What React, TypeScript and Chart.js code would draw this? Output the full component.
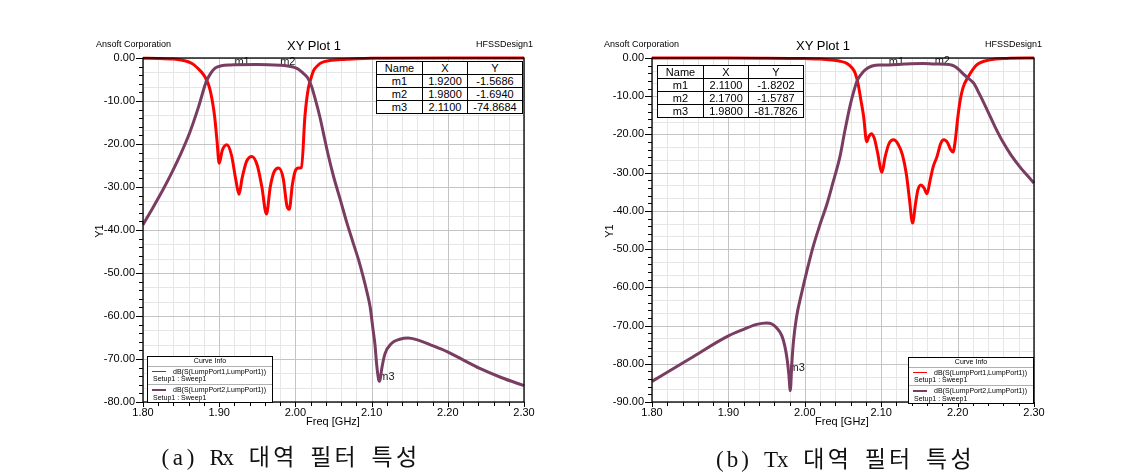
import React, { useEffect, useRef } from "react";
import { Chart, registerables } from "chart.js";

Chart.register(...registerables);

// ---------------- DATA ----------------
const xTickValues = [1.8, 1.9, 2.0, 2.1, 2.2, 2.3];

// (a) Rx band filter
const rxS11Freq = [1.80, 1.82, 1.84, 1.85, 1.856, 1.862, 1.867, 1.872, 1.877, 1.881, 1.885, 1.888, 1.891, 1.894, 1.897, 1.900, 1.904, 1.910, 1.916, 1.922, 1.926, 1.930, 1.936, 1.943, 1.950, 1.956, 1.962, 1.967, 1.972, 1.978, 1.984, 1.989, 1.992, 1.996, 2.000, 2.004, 2.008, 2.0125, 2.017, 2.020, 2.024, 2.029, 2.034, 2.045, 2.067, 2.08, 2.10, 2.20, 2.30];
const rxS11 = [-0.05, -0.1, -0.25, -0.45, -0.7, -1.1, -1.6, -2.4, -3.3, -4.3, -5.7, -7.4, -10, -13.6, -19, -24.5, -21.5, -20.2, -22.5, -28.5, -31.7, -28, -24, -22.9, -25, -30, -36.3, -30, -26.5, -25.6, -28, -34.5, -35.2, -29.5, -26.2, -25.6, -25.5, -13.6, -7, -5, -2.9, -1.8, -1.1, -0.6, -0.3, -0.15, -0.05, 0, 0];

const rxS21Freq = [1.80, 1.813, 1.826, 1.838, 1.848, 1.861, 1.873, 1.883, 1.889, 1.895, 1.903, 1.915, 1.92, 1.95, 1.98, 1.99, 1.997, 2.004, 2.010, 2.016, 2.021, 2.026, 2.032, 2.038, 2.043, 2.050, 2.059, 2.067, 2.076, 2.083, 2.089, 2.094, 2.098, 2.102, 2.1045, 2.1065, 2.109, 2.110, 2.1115, 2.113, 2.1175, 2.126, 2.137, 2.148, 2.159, 2.18, 2.199, 2.22, 2.242, 2.27, 2.30];
const rxS21 = [-38.8, -34.8, -30.7, -26.6, -22.9, -17.5, -11.3, -5.5, -3.5, -2.3, -1.8, -1.6, -1.57, -1.5, -1.69, -1.85, -2.1, -2.6, -3.5, -4.6, -6.5, -9.5, -13.6, -18.5, -22.5, -27.5, -33, -38, -43.1, -47, -50.9, -54.5, -57.8, -63.3, -66.8, -71, -74.6, -75.2, -74.5, -72.6, -68.8, -66.4, -65.4, -65.1, -65.5, -66.9, -68.3, -70.2, -72.2, -74.3, -76.2];

const rxMarkerNames = ["m1", "m2", "m3"];
const rxMarkerX = [1.92, 1.98, 2.11];
const rxMarkerY = [-1.5686, -1.694, -74.8684];

// (b) Tx band filter
const txS11Freq = [1.80, 1.90, 1.95, 1.98, 2.00, 2.02, 2.035, 2.045, 2.055, 2.061, 2.066, 2.070, 2.073, 2.077, 2.081, 2.084, 2.087, 2.091, 2.095, 2.101, 2.105, 2.110, 2.116, 2.122, 2.128, 2.133, 2.137, 2.141, 2.145, 2.148, 2.152, 2.156, 2.160, 2.164, 2.168, 2.173, 2.178, 2.182, 2.187, 2.191, 2.194, 2.197, 2.200, 2.203, 2.207, 2.214, 2.225, 2.242, 2.264, 2.30];
const txS11 = [0, 0, -0.05, -0.1, -0.15, -0.25, -0.5, -0.8, -1.4, -2.4, -4, -7, -10.5, -15.3, -21.9, -20.5, -19.8, -21, -24.5, -29.9, -26, -22.5, -21.4, -22.5, -25.5, -30.5, -37, -43.2, -38, -34.5, -33.2, -34, -35.5, -32, -28.5, -25.8, -22.3, -21.4, -22.2, -24, -24.6, -21.5, -16, -11.5, -7.8, -4.9, -1.8, -0.5, -0.1, 0];

const txS21Freq = [1.80, 1.85, 1.90, 1.92, 1.937, 1.950, 1.957, 1.963, 1.970, 1.974, 1.977, 1.979, 1.981, 1.983, 1.985, 1.989, 1.996, 2.003, 2.011, 2.020, 2.029, 2.037, 2.046, 2.052, 2.059, 2.064, 2.068, 2.074, 2.079, 2.088, 2.098, 2.11, 2.13, 2.155, 2.17, 2.185, 2.193, 2.197, 2.202, 2.207, 2.214, 2.221, 2.229, 2.238, 2.249, 2.260, 2.270, 2.282, 2.291, 2.30];
const txS21 = [-84.6, -78.6, -72.7, -71, -69.7, -69.3, -69.6, -70.6, -72.7, -75.5, -79, -82.5, -87, -80, -74.5, -68, -61.4, -55.5, -49.3, -43.5, -38.2, -32.5, -25.8, -19.5, -12.7, -8.8, -6.2, -4.2, -3.1, -2.1, -1.8, -1.82, -1.6, -1.45, -1.58, -1.65, -1.9, -2.3, -3.1, -4.1, -5.3, -6.6, -9.6, -13.3, -18.0, -22.2, -25.4, -28.6, -30.7, -32.7];

const txMarkerNames = ["m1", "m2", "m3"];
const txMarkerX = [2.11, 2.17, 1.98];
const txMarkerY = [-1.8202, -1.5787, -81.7826];

const curveLabels = ["dB(S(LumpPort1,LumpPort1))", "dB(S(LumpPort2,LumpPort1))"];
const setupLabel = "Setup1 : Sweep1";
const rxCaption = "(a) Rx 대역 필터 특성";
const txCaption = "(b) Tx 대역 필터 특성";

// ---------------- STYLE ----------------
const S11_COLOR = "#ff0000";
const S21_COLOR = "#7a3d62";
const MAJOR_GRID = "#c4c4c4";
const MINOR_GRID = "#e6e6e6";
const FONT = "'Liberation Sans', Arial, sans-serif";
const CANVAS_W = 565;
const CANVAS_H = 474;

const hfssPlugin = {
  id: "hfssFrame",
  beforeDatasetsDraw(chart: any, _args: any, opts: any) {
    const { ctx, chartArea: a, scales } = chart;
    const xs = scales.x;
    const ys = scales.y;
    const yMin = ys.min;
    ctx.save();
    ctx.fillStyle = "#fff";
    ctx.fillRect(a.left, a.top, a.right - a.left, a.bottom - a.top);
    ctx.lineWidth = 1;
    const vline = (v: number, color: string) => {
      const p = Math.round(xs.getPixelForValue(v)) + 0.5;
      ctx.strokeStyle = color;
      ctx.beginPath();
      ctx.moveTo(p, a.top);
      ctx.lineTo(p, a.bottom);
      ctx.stroke();
    };
    const hline = (v: number, color: string) => {
      const p = Math.round(ys.getPixelForValue(v)) + 0.5;
      ctx.strokeStyle = color;
      ctx.beginPath();
      ctx.moveTo(a.left, p);
      ctx.lineTo(a.right, p);
      ctx.stroke();
    };
    const nY = Math.round((-yMin / 10) * 3);
    for (let i = 0; i <= 25; i++) if (i % 5) vline(1.8 + i * 0.02, MINOR_GRID);
    for (let j = 0; j <= nY; j++) if (j % 3) hline((-j * 10) / 3, MINOR_GRID);
    for (let i = 0; i <= 25; i += 5) vline(1.8 + i * 0.02, MAJOR_GRID);
    for (let j = 0; j <= nY; j += 3) hline((-j * 10) / 3, MAJOR_GRID);

    // marker labels
    ctx.font = `11px ${FONT}`;
    ctx.fillStyle = "#1a1a1a";
    ctx.textAlign = "left";
    ctx.textBaseline = "middle";
    const names: string[] = opts.names || [];
    for (let k = 0; k < names.length; k++) {
      const px = xs.getPixelForValue(opts.mx[k]);
      const py = ys.getPixelForValue(opts.my[k]);
      ctx.fillText(names[k], px, py - 3);
    }
    ctx.restore();
  },
  afterDatasetsDraw(chart: any) {
    const { ctx, chartArea: a, scales } = chart;
    const xs = scales.x;
    const ys = scales.y;
    ctx.save();
    ctx.strokeStyle = "#000";
    ctx.lineWidth = 1.3;
    ctx.strokeRect(a.left, a.top, a.right - a.left, a.bottom - a.top);
    ctx.lineWidth = 1;
    // y ticks every 2 dB
    const n2 = Math.round(-ys.min / 2);
    for (let j = 0; j <= n2; j++) {
      const p = Math.round(ys.getPixelForValue(-j * 2)) + 0.5;
      const len = j % 5 === 0 ? 7 : 4;
      ctx.beginPath();
      ctx.moveTo(a.left - len, p);
      ctx.lineTo(a.left, p);
      ctx.stroke();
    }
    // x ticks every 0.02
    for (let i = 0; i <= 25; i++) {
      const p = Math.round(xs.getPixelForValue(1.8 + i * 0.02)) + 0.5;
      const len = i % 5 === 0 ? 5 : 4;
      ctx.beginPath();
      ctx.moveTo(p, a.bottom);
      ctx.lineTo(p, a.bottom + len);
      ctx.stroke();
    }
    ctx.restore();
  },
};

type ChartProps = {
  left: number;
  area: { l: number; r: number; t: number; b: number };
  yMin: number;
  s11x: number[];
  s11y: number[];
  s21x: number[];
  s21y: number[];
  names: string[];
  mx: number[];
  my: number[];
};

function HfssChart(p: ChartProps) {
  const ref = useRef<HTMLCanvasElement | null>(null);
  useEffect(() => {
    if (!ref.current) return;
    const toPts = (xs: number[], ys: number[]) => xs.map((x, i) => ({ x, y: ys[i] }));
    const chart = new Chart(ref.current, {
      type: "line",
      data: {
        datasets: [
          {
            label: curveLabels[0],
            data: toPts(p.s11x, p.s11y),
            borderColor: S11_COLOR,
            borderWidth: 3,
            pointRadius: 0,
            cubicInterpolationMode: "monotone",
            fill: false,
            clip: false,
            order: 1,
          },
          {
            label: curveLabels[1],
            data: toPts(p.s21x, p.s21y),
            borderColor: S21_COLOR,
            borderWidth: 3,
            pointRadius: 0,
            cubicInterpolationMode: "monotone",
            fill: false,
            clip: false,
            order: 0,
          },
        ],
      },
      options: {
        responsive: false,
        animation: false,
        devicePixelRatio: 1,
        layout: {
          padding: { left: 0, top: p.area.t, right: CANVAS_W - p.area.r, bottom: CANVAS_H - p.area.b - 30 },
        },
        plugins: {
          legend: { display: false },
          tooltip: { enabled: false },
          title: { display: false },
          hfssFrame: { names: p.names, mx: p.mx, my: p.my },
        } as any,
        scales: {
          x: {
            type: "linear",
            min: 1.8,
            max: 2.3,
            afterFit: (s: any) => {
              s.height = 30;
            },
            afterBuildTicks: (s: any) => {
              s.ticks = xTickValues.map((v) => ({ value: v }));
            },
            grid: { display: false, drawTicks: false },
            border: { display: false },
            ticks: {
              padding: 4,
              autoSkip: false,
              maxRotation: 0,
              color: "#000",
              font: { family: FONT, size: 11 },
              callback: (v: any) => Number(v).toFixed(2),
            },
          },
          y: {
            type: "linear",
            min: p.yMin,
            max: 0,
            afterFit: (s: any) => {
              s.width = p.area.l;
            },
            grid: { display: false, drawTicks: false },
            border: { display: false },
            ticks: {
              stepSize: 10,
              padding: 8,
              autoSkip: false,
              color: "#000",
              font: { family: FONT, size: 11 },
              callback: (v: any) => Number(v).toFixed(2),
            },
          },
        },
      },
      plugins: [hfssPlugin as any],
    } as any);
    return () => chart.destroy();
  }, []);
  return (
    <canvas
      ref={ref}
      width={CANVAS_W}
      height={CANVAS_H}
      style={{ position: "absolute", left: p.left, top: 0, width: CANVAS_W, height: CANVAS_H }}
    />
  );
}

function Label(props: { x: number; y: number; size: number; text: string; anchor?: "left" | "center" | "right"; rotate?: boolean; weight?: string }) {
  const anchor = props.anchor || "left";
  const tx = anchor === "left" ? "0" : anchor === "center" ? "-50%" : "-100%";
  return (
    <div
      style={{
        position: "absolute",
        left: props.x,
        top: props.y,
        transform: `translate(${tx}, -50%)${props.rotate ? " rotate(-90deg)" : ""}`,
        fontFamily: FONT,
        fontSize: props.size,
        fontWeight: props.weight || "normal",
        lineHeight: 1,
        whiteSpace: "nowrap",
        color: "#000",
      }}
    >
      {props.text}
    </div>
  );
}

function MarkerTable(props: { left: number; top: number; names: string[]; xs: number[]; ys: number[] }) {
  const cols = [46, 45, 55];
  const cell: React.CSSProperties = {
    border: "1px solid #000",
    height: 12,
    padding: 0,
    textAlign: "center",
    lineHeight: "12px",
    overflow: "hidden",
  };
  return (
    <table
      style={{
        position: "absolute",
        left: props.left,
        top: props.top,
        width: cols[0] + cols[1] + cols[2],
        borderCollapse: "collapse",
        tableLayout: "fixed",
        background: "#fff",
        fontFamily: FONT,
        fontSize: 11,
        color: "#000",
      }}
    >
      <colgroup>
        {cols.map((w, i) => (
          <col key={i} style={{ width: w }} />
        ))}
      </colgroup>
      <tbody>
        <tr>
          <td style={cell}>Name</td>
          <td style={cell}>X</td>
          <td style={cell}>Y</td>
        </tr>
        {props.names.map((n, i) => (
          <tr key={n}>
            <td style={cell}>{n}</td>
            <td style={cell}>{props.xs[i].toFixed(4)}</td>
            <td style={cell}>{props.ys[i].toFixed(4)}</td>
          </tr>
        ))}
      </tbody>
    </table>
  );
}

function CurveInfo(props: { left: number; top: number }) {
  const colors = [S11_COLOR, S21_COLOR];
  return (
    <div
      style={{
        position: "absolute",
        left: props.left,
        top: props.top,
        width: 126,
        height: 47,
        border: "1px solid #000",
        background: "#fff",
        boxSizing: "border-box",
        fontFamily: FONT,
        fontSize: 7,
        color: "#000",
      }}
    >
      <div style={{ position: "absolute", left: 0, right: 0, top: 0, height: 8, lineHeight: "8px", textAlign: "center" }}>Curve Info</div>
      <div style={{ position: "absolute", left: 0, right: 0, top: 8.5, borderTop: "1px solid #b0b0b0" }} />
      {curveLabels.map((lab, i) => {
        const base = 9 + i * 18.5;
        return (
          <React.Fragment key={lab}>
            <div style={{ position: "absolute", left: 4, width: 14, top: base + 4.8, height: 1.4, background: colors[i] }} />
            <div style={{ position: "absolute", right: 6, top: base + 1.5, lineHeight: "8px", whiteSpace: "nowrap" }}>{lab}</div>
            <div style={{ position: "absolute", left: 5, top: base + 9.3, lineHeight: "8px", whiteSpace: "nowrap" }}>{setupLabel}</div>
            {i === 0 ? (
              <div style={{ position: "absolute", left: 0, right: 0, top: base + 18, borderTop: "1px solid #b0b0b0" }} />
            ) : null}
          </React.Fragment>
        );
      })}
    </div>
  );
}

function Caption(props: { left: number; cy: number; text: string }) {
  return (
    <div
      style={{
        position: "absolute",
        left: props.left,
        top: props.cy - 15,
        height: 30,
        lineHeight: "30px",
        whiteSpace: "nowrap",
        fontSize: 23,
        color: "#111",
      }}
    >
      {Array.from(props.text).map((ch, i) => {
        const full = /[\u3131-\uD7A3]/.test(ch);
        return (
          <span
            key={i}
            style={{
              display: "inline-block",
              width: full ? 24.4 : 12.6,
              textAlign: "center",
              fontFamily: full ? "'Noto Sans CJK KR', sans-serif" : "'Liberation Serif', serif",
            }}
          >
            {ch === " " ? "\u00a0" : ch}
          </span>
        );
      })}
    </div>
  );
}

export default function App() {
  return (
    <div style={{ position: "absolute", left: 0, top: 0, width: 1130, height: 474, background: "#fff", overflow: "hidden" }}>
      <HfssChart
        left={0}
        area={{ l: 143, r: 524, t: 58, b: 402 }}
        yMin={-80}
        s11x={rxS11Freq}
        s11y={rxS11}
        s21x={rxS21Freq}
        s21y={rxS21}
        names={rxMarkerNames}
        mx={rxMarkerX}
        my={rxMarkerY}
      />
      <HfssChart
        left={565}
        area={{ l: 87, r: 469, t: 58, b: 402 }}
        yMin={-90}
        s11x={txS11Freq}
        s11y={txS11}
        s21x={txS21Freq}
        s21y={txS21}
        names={txMarkerNames}
        mx={txMarkerX}
        my={txMarkerY}
      />

      <Label x={96} y={44} size={9} text="Ansoft Corporation" />
      <Label x={314} y={45} size={13} text="XY Plot 1" anchor="center" />
      <Label x={533} y={44} size={9} text="HFSSDesign1" anchor="right" />
      <Label x={98.5} y={231} size={11} text="Y1" anchor="center" rotate />
      <Label x={333} y={421} size={11} text="Freq [GHz]" anchor="center" />
      <MarkerTable left={376} top={61} names={rxMarkerNames} xs={rxMarkerX} ys={rxMarkerY} />
      <CurveInfo left={147} top={356} />
      <Caption left={159} cy={455} text={rxCaption} />

      <Label x={604} y={44} size={9} text="Ansoft Corporation" />
      <Label x={823} y={45} size={13} text="XY Plot 1" anchor="center" />
      <Label x={1042} y={44} size={9} text="HFSSDesign1" anchor="right" />
      <Label x={608.5} y={231} size={11} text="Y1" anchor="center" rotate />
      <Label x={842} y={421} size={11} text="Freq [GHz]" anchor="center" />
      <MarkerTable left={657} top={65} names={txMarkerNames} xs={txMarkerX} ys={txMarkerY} />
      <CurveInfo left={908} top={357} />
      <Caption left={713.5} cy={456.5} text={txCaption} />
    </div>
  );
}
